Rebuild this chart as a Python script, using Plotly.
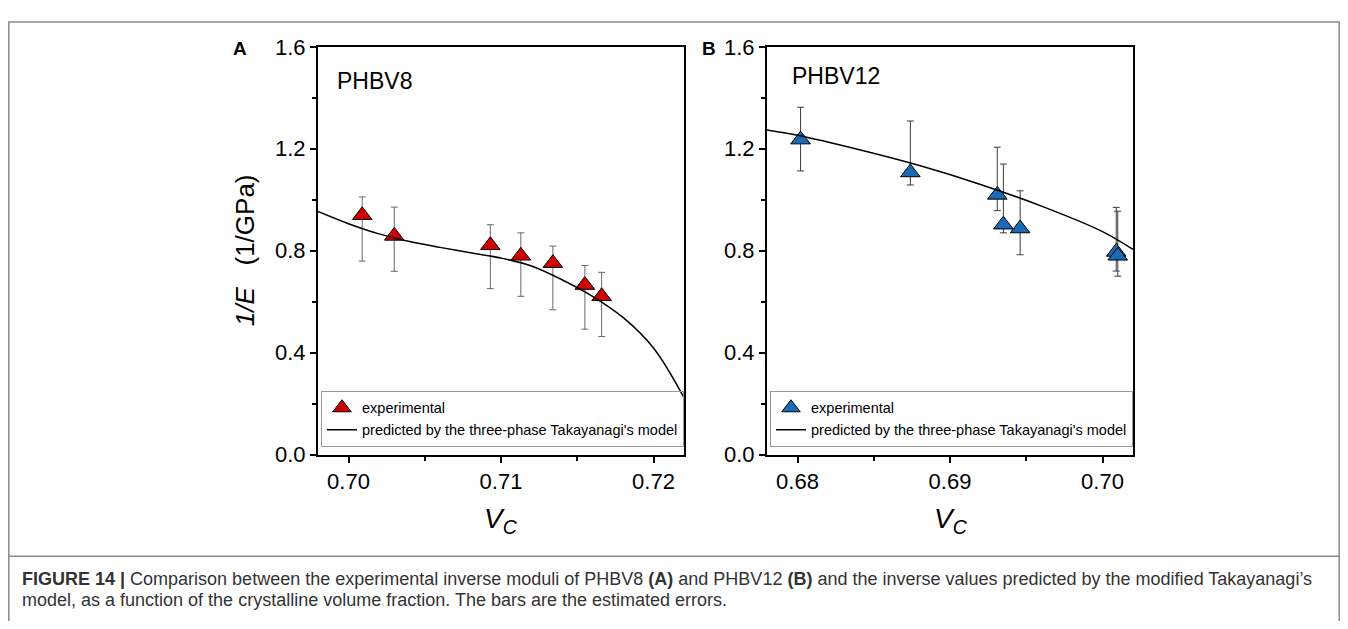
import plotly.graph_objects as go

# panel A - PHBV8
vc_a = [0.7009, 0.7030, 0.7093, 0.7113, 0.7134, 0.7155, 0.7166]
inv_e_a = [0.939, 0.858, 0.821, 0.780, 0.751, 0.665, 0.621]
err_hi_a = [1.011, 0.971, 0.902, 0.870, 0.818, 0.742, 0.715]
err_lo_a = [0.759, 0.719, 0.651, 0.621, 0.568, 0.492, 0.463]
model_x_a = [0.698, 0.700, 0.702, 0.704, 0.706, 0.708, 0.710, 0.712, 0.714, 0.716, 0.718, 0.720, 0.722]
model_y_a = [0.954, 0.906, 0.866, 0.836, 0.813, 0.792, 0.771, 0.740, 0.686, 0.621, 0.538, 0.418, 0.223]

# panel B - PHBV12
vc_b = [0.6802, 0.6874, 0.6931, 0.6935, 0.6946, 0.7009, 0.7010]
inv_e_b = [1.236, 1.107, 1.019, 0.902, 0.887, 0.795, 0.780]
err_hi_b = [1.363, 1.309, 1.206, 1.140, 1.035, 0.970, 0.955]
err_lo_b = [1.113, 1.058, 0.957, 0.870, 0.784, 0.720, 0.700]
model_x_b = [0.678, 0.680, 0.684, 0.688, 0.692, 0.696, 0.700, 0.702]
model_y_b = [1.274, 1.253, 1.197, 1.134, 1.060, 0.975, 0.875, 0.805]

y_ticks = [0.0, 0.4, 0.8, 1.2, 1.6]

# the page body has an 8px margin, so the figure is sized to fit the window
OFF = 8
W, H = 1348 - 2 * OFF, 629 - 2 * OFF
FONT = "Liberation Sans, Arial, sans-serif"


def px_x(v):
    return (v - OFF) / W


def px_y(v):
    return 1 - (v - OFF) / H


fig = go.Figure()


def add_panel(xs, ys, hi, lo, mx, my, color, bar_color, xa, ya, legend):
    fig.add_trace(go.Scatter(
        x=xs, y=ys, mode="markers", name="experimental",
        xaxis=xa, yaxis=ya, legend=legend,
        marker=dict(symbol="triangle-up", size=17, color=color,
                    line=dict(color="black", width=1)),
        error_y=dict(type="data", symmetric=False,
                     array=[h - y for h, y in zip(hi, ys)],
                     arrayminus=[y - l for l, y in zip(lo, ys)],
                     color=bar_color, thickness=1, width=3.5),
    ))
    fig.add_trace(go.Scatter(
        x=mx, y=my, mode="lines",
        name="predicted by the three-phase Takayanagi's model",
        xaxis=xa, yaxis=ya, legend=legend,
        line=dict(color="black", width=1.5, shape="spline"),
    ))


add_panel(vc_a, inv_e_a, err_hi_a, err_lo_a, model_x_a, model_y_a,
          "#d10000", "#6a6a6a", "x", "y", "legend")
add_panel(vc_b, inv_e_b, err_hi_b, err_lo_b, model_x_b, model_y_b,
          "#1a6bb3", "#3c3c3c", "x2", "y2", "legend2")

ax_common = dict(showline=True, linecolor="black", linewidth=2, mirror=True,
                 ticks="outside", ticklen=6, tickwidth=2, tickcolor="black",
                 showgrid=False, zeroline=False,
                 tickfont=dict(family=FONT, size=22, color="black"))
minor_x = dict(dtick=0.005, ticklen=4, tickwidth=2, ticks="outside", tickcolor="black")
minor_y = dict(dtick=0.2, ticklen=4, tickwidth=2, ticks="outside", tickcolor="black")

dom_y = [px_y(461), px_y(36)]

legend_style = dict(bgcolor="rgba(255,255,255,0)", bordercolor="#9a9a9a", borderwidth=1,
                    font=dict(family=FONT, size=14.5, color="black"),
                    xanchor="left", yanchor="bottom", itemwidth=30,
                    tracegroupgap=0, traceorder="normal")

fig.update_layout(
    width=W, height=H,
    margin=dict(l=0, r=0, t=0, b=0),
    paper_bgcolor="white", plot_bgcolor="white",
    xaxis=dict(domain=[px_x(318), px_x(684)], range=[0.698, 0.722],
               dtick=0.01, tick0=0.70, tickformat=".2f", anchor="y",
               minor=minor_x, **ax_common),
    yaxis=dict(domain=dom_y, range=[0, 1.6], tickvals=y_ticks,
               tickformat=".1f", anchor="x", minor=minor_y, **ax_common),
    xaxis2=dict(domain=[px_x(767), px_x(1133)], range=[0.678, 0.702],
                dtick=0.01, tick0=0.68, tickformat=".2f", anchor="y2",
                minor=minor_x, **ax_common),
    yaxis2=dict(domain=dom_y, range=[0, 1.6], tickvals=y_ticks,
                tickformat=".1f", anchor="x2", minor=minor_y, **ax_common),
    legend=dict(x=px_x(321), y=px_y(453), **legend_style),
    legend2=dict(x=px_x(770), y=px_y(453), **legend_style),
)

annots = [
    dict(x=px_x(240), y=px_y(38), text="<b>A</b>", font=dict(size=19)),
    dict(x=px_x(709), y=px_y(38), text="<b>B</b>", font=dict(size=19)),
    dict(x=px_x(335), y=px_y(72), text="PHBV8", font=dict(size=23), xanchor="left"),
    dict(x=px_x(790), y=px_y(66), text="PHBV12", font=dict(size=23), xanchor="left"),
    dict(x=px_x(245), y=px_y(248), text="<i>1/E</i>\u00a0\u00a0\u00a0(1/GPa)",
         font=dict(size=26), textangle=-90),
    dict(x=px_x(501), y=px_y(530), text="<i>V<sub>C</sub></i>", font=dict(size=28)),
    dict(x=px_x(951), y=px_y(530), text="<i>V<sub>C</sub></i>", font=dict(size=28)),
    dict(x=px_x(20), y=px_y(591), xanchor="left",
         text="<b>FIGURE 14 |</b> Comparison between the experimental inverse moduli of PHBV8 "
              "<b>(A)</b> and PHBV12 <b>(B)</b> and the inverse values predicted by the modified "
              "Takayanagi\u2019s", font=dict(size=18, color="#333333")),
    dict(x=px_x(20), y=px_y(613), xanchor="left",
         text="model, as a function of the crystalline volume fraction. The bars are the "
              "estimated errors.", font=dict(size=18, color="#333333")),
]
for a in annots:
    a.setdefault("xanchor", "center")
    f = dict(family=FONT, color="black")
    f.update(a["font"])
    a["font"] = f
    fig.add_annotation(xref="paper", yref="paper", showarrow=False, yanchor="middle", **a)

# outer figure frame and caption rule
fig.add_shape(type="rect", xref="paper", yref="paper",
              x0=0.0006, x1=0.9994, y0=-0.05, y1=px_y(10),
              line=dict(color="#8a8a8a", width=1.5))
fig.add_shape(type="line", xref="paper", yref="paper",
              x0=0.0006, x1=0.9994, y0=px_y(567), y1=px_y(567),
              line=dict(color="#8a8a8a", width=1.5))

fig.write_html("out.html")
